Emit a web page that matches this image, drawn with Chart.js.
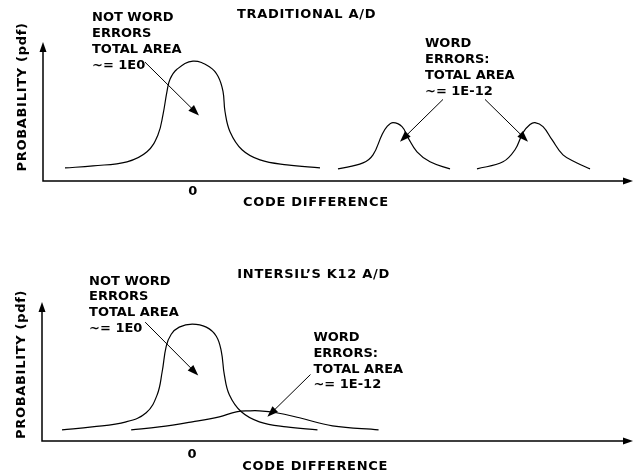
<!DOCTYPE html>
<html><head><meta charset="utf-8">
<script src="https://cdn.jsdelivr.net/npm/chart.js@4/dist/chart.umd.min.js"></script>
<style>
html,body{margin:0;padding:0;background:#fff;}
.panel{position:relative;width:638px;height:237px;}
canvas{display:block;}
</style></head><body>
<div class="panel"><canvas id="c1" width="638" height="237"></canvas></div>
<div class="panel"><canvas id="c2" width="638" height="237"></canvas></div>
<script>
// ---------- text ----------
const panelTitles = ["TRADITIONAL A/D", "INTERSIL\u2019S K12 A/D"];
const xAxisTitle = "CODE DIFFERENCE";
const yAxisTitle = "PROBABILITY (pdf)";
const xTickValues = [0];
const xTickLabels = ["0"];
const notWordLines = ["NOT WORD", "ERRORS", "TOTAL AREA", "~= 1E0"];
const wordLines = ["WORD", "ERRORS:", "TOTAL AREA", "~= 1E-12"];

// ---------- top panel: traditional A/D ----------
const tradMainX = [-2.56,-2.0,-1.32,-0.92,-0.70,-0.60,-0.52,-0.46,-0.32,0,0.34,0.50,0.60,0.64,0.74,0.98,1.34,1.88,2.54];
const tradMainY = [0.094,0.109,0.138,0.21,0.333,0.478,0.645,0.732,0.804,0.862,0.819,0.754,0.645,0.50,0.355,0.225,0.152,0.116,0.094];
const tradErrLowX = [2.90,3.40,3.60,3.78,3.88,4.00,4.18,4.30,4.48,4.74,5.14];
const tradErrLowY = [0.087,0.130,0.188,0.333,0.391,0.420,0.391,0.312,0.210,0.138,0.087];
const tradErrHighX = [5.68,6.20,6.44,6.60,6.74,6.84,7.00,7.18,7.40,7.68,7.94];
const tradErrHighY = [0.087,0.138,0.225,0.348,0.406,0.420,0.391,0.297,0.188,0.130,0.087];

// ---------- bottom panel: Intersil K12 A/D ----------
const k12MainX = [-2.6,-2.0,-1.32,-0.92,-0.70,-0.60,-0.52,-0.42,-0.26,0,0.28,0.48,0.58,0.64,0.74,0.98,1.34,1.88,2.50];
const k12MainY = [0.080,0.101,0.138,0.203,0.333,0.50,0.681,0.768,0.819,0.841,0.819,0.754,0.645,0.478,0.333,0.210,0.138,0.101,0.080];
const k12ErrX = [-1.22,-0.66,0,0.54,0.88,1.14,1.34,1.68,2.14,2.80,3.72];
const k12ErrY = [0.080,0.101,0.138,0.174,0.210,0.217,0.217,0.203,0.167,0.109,0.080];

function pts(xs, ys){ return xs.map((x,i)=>({x:x, y:ys[i]})); }

const FONT = 'bold 13px "DejaVu Sans", Verdana, sans-serif';

function arrowHead(ctx, x1, y1, x2, y2, len, half){
  const a = Math.atan2(y2-y1, x2-x1);
  const c = Math.cos(a), s = Math.sin(a);
  ctx.beginPath();
  ctx.moveTo(x2, y2);
  ctx.lineTo(x2 - len*c + half*s, y2 - len*s - half*c);
  ctx.lineTo(x2 - len*c - half*s, y2 - len*s + half*c);
  ctx.closePath();
  ctx.fill();
}

const diagramPlugin = {
  id: 'diagram',
  afterDraw(chart, args, o){
    const ctx = chart.ctx, xs = chart.scales.x, ys = chart.scales.y;
    const a = chart.chartArea;
    ctx.save();
    ctx.strokeStyle = '#000'; ctx.fillStyle = '#000';
    // axes
    ctx.lineWidth = 1.5;
    ctx.beginPath();
    ctx.moveTo(a.left, a.top + 6); ctx.lineTo(a.left, a.bottom); ctx.lineTo(a.right - 6, a.bottom);
    ctx.stroke();
    arrowHead(ctx, a.left, a.bottom, a.left, a.top, 10, 3.5);
    arrowHead(ctx, a.left, a.bottom, a.right, a.bottom, 10, 3.5);
    // text
    ctx.font = FONT;
    ctx.textBaseline = 'middle';
    ctx.letterSpacing = '0.7px';
    ctx.textAlign = 'center';
    xTickValues.forEach((v,i)=>{
      ctx.fillText(xTickLabels[i], xs.getPixelForValue(v), a.bottom + o.tickOffset);
    });
    ctx.textAlign = 'left';
    ctx.fillText(xAxisTitle, xs.getPixelForValue(o.xTitleX), a.bottom + o.xTitleOffset);
    ctx.fillText(o.title, xs.getPixelForValue(o.titleX), ys.getPixelForValue(o.titleY));
    ctx.save();
    ctx.translate(a.left - o.yTitleOffset, ys.getPixelForValue(o.yTitleY));
    ctx.rotate(-Math.PI/2);
    ctx.textAlign = 'center';
    ctx.fillText(yAxisTitle, 0, 0);
    ctx.restore();
    // notes
    ctx.letterSpacing = '0px';
    ctx.textAlign = 'left';
    o.notes.forEach(n=>{
      const x = xs.getPixelForValue(n.x), y0 = ys.getPixelForValue(n.y);
      n.lines.forEach((t,i)=> ctx.fillText(t, x, y0 + i*o.lineGap));
    });
    // arrows
    ctx.lineWidth = 1;
    o.arrows.forEach(r=>{
      const x1 = xs.getPixelForValue(r.x1), y1 = ys.getPixelForValue(r.y1);
      const x2 = xs.getPixelForValue(r.x2), y2 = ys.getPixelForValue(r.y2);
      ctx.beginPath(); ctx.moveTo(x1,y1);
      const ang = Math.atan2(y2-y1, x2-x1);
      ctx.lineTo(x2 - 6*Math.cos(ang), y2 - 6*Math.sin(ang));
      ctx.stroke();
      arrowHead(ctx, x1, y1, x2, y2, 11, 4);
    });
    ctx.restore();
  }
};

function lineDs(data){
  return { data: data, borderColor: '#000', borderWidth: 1.2, pointRadius: 0,
           fill: false, tension: 0.4 };
}

function makeChart(id, datasets, padding, diag){
  return new Chart(document.getElementById(id), {
    type: 'line',
    data: { datasets: datasets },
    options: {
      responsive: false, animation: false, devicePixelRatio: 1,
      layout: { padding: padding },
      parsing: false,
      scales: {
        x: { type: 'linear', min: -3, max: 8.8, display: false },
        y: { type: 'linear', min: 0, max: 1, display: false }
      },
      plugins: { legend: { display: false }, tooltip: { enabled: false }, title: { display: false }, diagram: diag }
    },
    plugins: [diagramPlugin]
  });
}

makeChart('c1', [
  lineDs(pts(tradMainX, tradMainY)),
  lineDs(pts(tradErrLowX, tradErrLowY)),
  lineDs(pts(tradErrHighX, tradErrHighY))
], { left: 43, right: 5, top: 42, bottom: 56 }, {
  title: panelTitles[0], titleX: 0.88, titleY: 1.196,
  tickOffset: 11, xTitleOffset: 21.5, xTitleX: 1.0,
  yTitleOffset: 20.5, yTitleY: 0.605,
  lineGap: 15.8,
  notes: [ { x: -2.02, y: 1.174, lines: notWordLines }, { x: 4.64, y: 0.986, lines: wordLines } ],
  arrows: [
    { x1: -0.96, y1: 0.855, x2: 0.12, y2: 0.471 },
    { x1: 5.0, y1: 0.587, x2: 4.14, y2: 0.283 },
    { x1: 5.84, y1: 0.587, x2: 6.70, y2: 0.283 }
  ]
});

makeChart('c2', [
  lineDs(pts(k12MainX, k12MainY)),
  lineDs(pts(k12ErrX, k12ErrY))
], { left: 42, right: 5, top: 65, bottom: 33 }, {
  title: panelTitles[1], titleX: 0.9, titleY: 1.196,
  tickOffset: 13.5, xTitleOffset: 26, xTitleX: 1.0,
  yTitleOffset: 20, yTitleY: 0.551,
  lineGap: 15.8,
  notes: [ { x: -2.06, y: 1.149, lines: notWordLines }, { x: 2.42, y: 0.743, lines: wordLines } ],
  arrows: [
    { x1: -0.94, y1: 0.855, x2: 0.12, y2: 0.471 },
    { x1: 2.36, y1: 0.478, x2: 1.5, y2: 0.174 }
  ]
});
</script>
</body></html>
